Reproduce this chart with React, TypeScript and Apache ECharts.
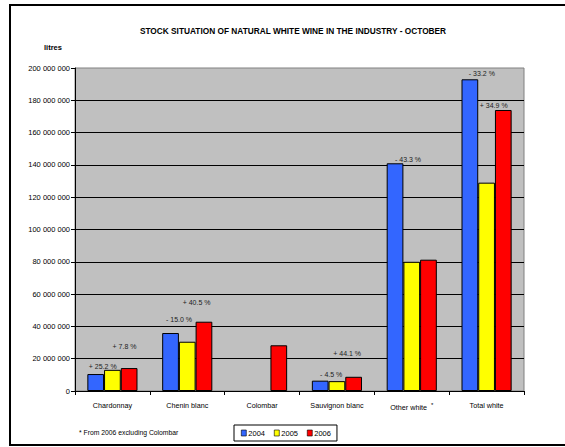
import React, { useEffect, useRef } from "react";
import * as echarts from "echarts";

const categories = ["Chardonnay", "Chenin blanc", "Colombar", "Sauvignon blanc", "Other white", "Total white"];
const years = ["2004", "2005", "2006"];
const stock2004 = [10.5e6, 35.9e6, null, 6.4e6, 141e6, 193e6];
const stock2005 = [13.1e6, 30.5e6, null, 6.1e6, 80e6, 129e6];
const stock2006 = [14.2e6, 42.9e6, 28.3e6, 8.8e6, 81.3e6, 174e6];
const change2005 = ["+ 25.2 %", "- 15.0 %", "", "- 4.5 %", "- 43.3 %", "- 33.2 %"];
const change2006 = ["+ 7.8 %", "+ 40.5 %", "", "+ 44.1 %", "", "+ 34.9 %"];
const yMin = 0;
const yMax = 200000000;
const yStep = 20000000;

const FONT = "'Liberation Sans Narrow', 'Arial Narrow', 'Liberation Sans', Arial, sans-serif";

const fmt = (v: number) => String(Math.round(v)).replace(/\B(?=(\d{3})+(?!\d))/g, " ");

export default function App() {
  const ref = useRef<HTMLDivElement>(null);
  useEffect(() => {
    if (!ref.current) return;
    const chart = echarts.init(ref.current, null, { renderer: "svg" });
    const off04 = [[7, -4], [8.5, -10], [0, 0], [11, -3], [13, 0], [12, -2]];
    const off06 = [[-4.6, -18], [-7.4, -16], [0, 0], [-6.5, -20], [0, 0], [-9.6, -1]];
    const lbl = (text: string, off: number[]) => ({
      show: text !== "",
      position: "top",
      distance: 0,
      offset: off,
      formatter: () => text,
      fontFamily: FONT,
      fontSize: 7,
      color: "#222",
    });
    const colors = ["#3366FF", "#FFFF00", "#FF0000"];
    const base = {
      type: "bar",
      barGap: "0%",
      barCategoryGap: "33%",
      itemStyle: { borderColor: "#000", borderWidth: 1 },
    };
    chart.setOption({
      animation: false,
      backgroundColor: "#fff",
      textStyle: { fontFamily: FONT },
      title: {
        text: "STOCK SITUATION OF NATURAL WHITE WINE IN THE INDUSTRY - OCTOBER",
        left: 288,
        top: 22,
        textAlign: "center",
        textStyle: { fontFamily: FONT, fontSize: 8.3, fontWeight: "bold", color: "#000" },
      },
      graphic: [
        {
          type: "rect",
          shape: { x: 10, y: 5, width: 600, height: 440 },
          style: { fill: "none", stroke: "#000", lineWidth: 2 },
          silent: true,
        },
        {
          type: "text",
          left: 44,
          top: 43,
          style: { text: "litres", font: `bold 7.5px ${FONT}`, fill: "#000" },
        },
        {
          type: "text",
          left: 79,
          top: 429,
          style: { text: "* From 2006 excluding Colombar", font: `6.8px ${FONT}`, fill: "#000" },
        },
      ],
      legend: {
        left: 234,
        top: 425,
        padding: [4, 6, 4, 7],
        borderColor: "#000",
        borderWidth: 1,
        itemWidth: 5,
        itemHeight: 6,
        itemGap: 9,
        icon: "rect",
        itemStyle: { borderWidth: 0.6, borderColor: "#000" },
        textStyle: { fontFamily: FONT, fontSize: 7.5, color: "#000", padding: [0, 0, 0, -3] },
        data: years,
      },
      grid: {
        left: 75,
        right: 41,
        top: 68,
        bottom: 56,
        show: true,
        backgroundColor: "#C0C0C0",
        borderColor: "#808080",
        borderWidth: 1,
      },
      xAxis: {
        type: "category",
        data: categories,
        axisLine: { lineStyle: { color: "#000", width: 1 } },
        axisTick: { show: true, length: 4, lineStyle: { color: "#000" } },
        axisLabel: {
          margin: 11,
          fontFamily: FONT,
          fontSize: 7.2,
          color: "#000",
          interval: 0,
          formatter: (v: string) => (v === "Other white" ? "{a|Other white  }{s|*}" : v),
          rich: {
            a: { fontFamily: FONT, fontSize: 7.2, color: "#000" },
            s: { fontFamily: FONT, fontSize: 6, color: "#000", padding: [0, 0, 5, 0] },
          },
        },
      },
      yAxis: {
        type: "value",
        min: yMin,
        max: yMax,
        interval: yStep,
        axisLine: { show: true, lineStyle: { color: "#000", width: 1 } },
        axisTick: { show: true, length: 4, lineStyle: { color: "#000" } },
        axisLabel: { margin: 5, fontFamily: FONT, fontSize: 7.5, color: "#000", formatter: (v: number) => fmt(v) },
        splitLine: { show: true, showMaxLine: false, lineStyle: { color: "#000", width: 1 } },
      },
      series: [
        {
          ...base,
          name: years[0],
          itemStyle: { ...base.itemStyle, color: colors[0] },
          data: stock2004.map((v, i) => ({ value: v, label: lbl(change2005[i], off04[i]) })),
        },
        {
          ...base,
          name: years[1],
          itemStyle: { ...base.itemStyle, color: colors[1] },
          data: stock2005,
        },
        {
          ...base,
          name: years[2],
          itemStyle: { ...base.itemStyle, color: colors[2] },
          data: stock2006.map((v, i) => ({ value: v, label: lbl(change2006[i], off06[i]) })),
        },
      ],
    });
    return () => chart.dispose();
  }, []);
  return <div ref={ref} style={{ position: "absolute", left: 0, top: 0, width: 565, height: 447 }} />;
}
